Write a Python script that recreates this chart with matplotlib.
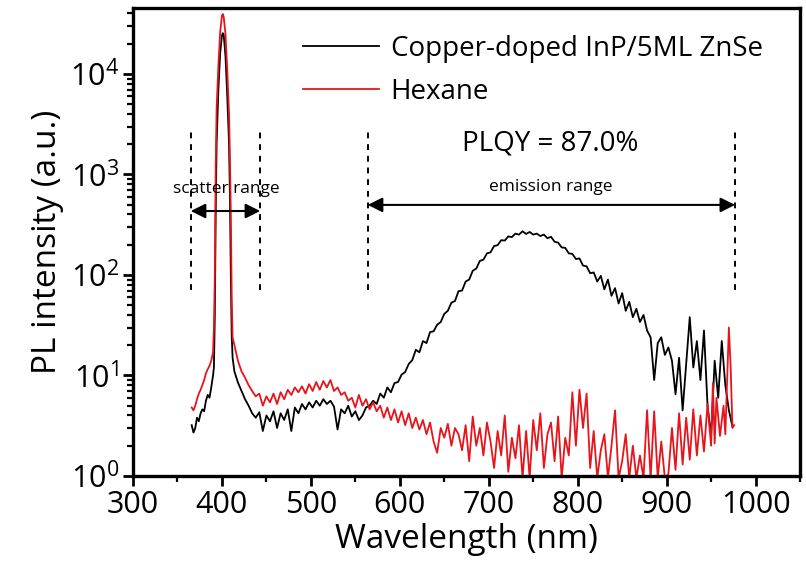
#!/usr/bin/env python3
"""PL spectrum of Cu-doped InP/ZnSe dots vs. the hexane blank, log scale."""

import matplotlib

matplotlib.use("Agg")
import matplotlib.pyplot as plt
from matplotlib.ticker import LogLocator, MultipleLocator, NullFormatter


# sample spectrum (nm, counts)
wl_sample = [366, 368, 370, 372, 374, 376, 378, 380, 382, 384, 386, 388, 390, 391, 392,
             393, 394, 396, 398, 400, 401, 402, 404, 406, 408, 409, 410, 411, 412, 414] \
    + list(range(418, 975, 4))
pl_sample = [3.2, 2.7, 3.0, 3.8, 3.5, 4.2, 4.6, 4.4, 5.6, 6.4, 6.0, 7.6, 10, 12, 40,
             400, 2000, 7000, 16000, 24000, 25500, 24500, 15000, 6000, 2000, 600, 100, 25, 15, 11,
             8.5, 7.0, 5.8, 5.0, 4.2, 3.8, 4.3, 2.8, 4.0, 3.5,
             4.4, 3.0, 4.2, 3.6, 4.6, 2.8, 4.8, 4.2, 5.2, 4.6,
             5.4, 4.8, 5.6, 5.0, 5.8, 5.2, 5.6, 4.9, 2.9, 4.6,
             4.2, 5.0, 3.9, 4.4, 3.6, 4.0, 4.8, 5.0, 5.6, 5.2,
             6.6, 6.0, 7.6, 6.8, 8.4, 8.6, 10.2, 10.8, 13.0, 14.2,
             18.0, 17.0, 22, 21, 27, 27.5, 32, 34, 41, 44,
             53, 55, 69, 70, 86, 90, 110, 116, 138, 142,
             164, 168, 194, 198, 222, 220, 242, 238, 258, 252,
             272, 256, 268, 252, 258, 244, 252, 232, 240, 214,
             210, 188, 186, 164, 162, 144, 146, 124, 122, 104,
             106, 86, 98, 72, 90, 62, 74, 52, 66, 44,
             54, 38, 46, 34, 40, 28, 24, 9, 21, 24,
             16, 19, 14, 6.5, 15, 4.5, 13, 38, 12, 22,
             9, 28, 5, 2.5, 14, 6, 22, 8, 4.5, 3.1]

# solvent blank (nm, counts)
wl_hexane = [366, 368, 370, 372, 374, 376, 378, 380, 382, 384, 386, 388, 390, 391, 392,
             393, 394, 396, 398, 400, 401, 402, 404, 406, 408, 409, 410, 411, 412, 414] \
    + list(range(418, 899, 4)) \
    + [902, 906, 910, 914, 918, 922, 926, 930, 934, 938, 942, 946, 950, 952, 954,
       956, 960, 964, 966, 970, 972, 974, 976]
pl_hexane = [4.8, 4.5, 5.0, 5.8, 6.6, 7.2, 8.0, 9.0, 10.5, 11.5, 12.5, 14, 17, 30, 100,
             1200, 4500, 12000, 26000, 38000, 39500, 37000, 25000, 11000, 4000, 1500, 400, 60, 24, 20,
             14, 11, 9.5, 8.0, 7.0, 6.2, 6.6, 5.0, 6.2, 5.4,
             6.6, 5.2, 6.8, 5.8, 7.2, 6.4, 7.6, 6.8, 7.8, 6.6,
             8.2, 7.0, 8.6, 7.2, 8.8, 7.6, 9.0, 7.0, 7.6, 6.4,
             6.8, 5.6, 6.0, 4.8, 6.4, 5.0, 5.8, 4.6, 5.4, 4.4,
             5.0, 3.8, 4.8, 3.6, 4.6, 3.4, 4.4, 3.2, 4.2, 3.0,
             3.8, 2.9, 3.6, 2.6, 3.4, 2.2, 1.7, 3.0, 2.4, 3.3,
             2.0, 3.0, 2.6, 1.8, 3.2, 1.4, 3.9, 2.0, 3.0, 1.6,
             3.4, 2.2, 1.2, 2.8, 1.6, 4.0, 1.1, 2.4, 1.5, 3.2,
             0.95, 2.8, 0.95, 3.6, 1.8, 4.2, 1.2, 2.6, 3.4, 1.4,
             3.9, 0.95, 2.4, 1.6, 6.8, 2.0, 7.2, 3.0, 6.6, 1.2,
             2.8, 0.95, 1.8, 2.6, 0.95, 2.0, 4.5, 0.95, 1.4, 2.6,
             0.95, 2.0, 0.95, 1.6, 0.95, 4.5, 0.95, 4.4, 0.95, 2.2,
             0.95,
             1.05, 3.0, 1.15, 4.2, 1.3, 3.8, 1.45, 4.6, 1.6, 4.0, 1.75, 5.2, 2.0, 8.4, 2.1,
             6.0, 2.5, 5.0, 2.6, 30, 12, 3.0, 3.2]

series_labels = ["Copper-doped InP/5ML ZnSe", "Hexane"]

# integration windows used for the QY calculation
scatter_range = (365, 443)
emission_range = (564, 977)
plqy = 87.0

plt.rcParams["font.family"] = ["Open Sans", "DejaVu Sans"]
plt.rcParams["mathtext.fontset"] = "custom"
plt.rcParams["mathtext.rm"] = "Open Sans"
plt.rcParams["mathtext.it"] = "Open Sans"

fig = plt.figure(figsize=(8.06, 5.79), dpi=100)
ax = fig.add_axes([0.165, 0.178, 0.8276, 0.8084])

ax.plot(wl_sample, pl_sample, color="black", lw=1.3, label=series_labels[0])
ax.plot(wl_hexane, pl_hexane, color="#e8141b", lw=1.3, label=series_labels[1])

ax.set_yscale("log")
ax.set_xlim(300, 1050)
ax.set_ylim(1, 4.55e4)

ax.xaxis.set_major_locator(MultipleLocator(100))
ax.xaxis.set_minor_locator(MultipleLocator(50))
ax.yaxis.set_major_locator(LogLocator(base=10, numticks=10))
ax.yaxis.set_minor_locator(LogLocator(base=10, subs=range(2, 10), numticks=20))
ax.yaxis.set_minor_formatter(NullFormatter())

for side in ax.spines.values():
    side.set_linewidth(2.4)
ax.tick_params(which="major", direction="out", length=7, width=2.0, labelsize=22, pad=3)
ax.tick_params(which="minor", direction="out", length=4, width=1.6)
ax.tick_params(top=False, right=False, which="both")

ax.set_xlabel("Wavelength (nm)", fontsize=24, labelpad=2)
ax.set_ylabel("PL intensity (a.u.)", fontsize=24, labelpad=4)

# window markers
for x in (*scatter_range, *emission_range):
    ax.plot([x, x], [71, 2800], color="black", lw=1.4, ls=(0, (3, 3)))

arrow = dict(arrowstyle="<|-|>", color="black", lw=1.5, mutation_scale=22,
             shrinkA=0, shrinkB=0)
ax.annotate("", xy=(scatter_range[0], 433), xytext=(scatter_range[1], 433), arrowprops=arrow)
ax.annotate("", xy=(emission_range[0], 498), xytext=(emission_range[1], 498), arrowprops=arrow)

ax.text(405, 720, "scatter range", fontsize=12.5, ha="center", va="center")
ax.text(770, 750, "emission range", fontsize=12.5, ha="center", va="center")
ax.text(769, 2050, f"PLQY = {plqy:.1f}%", fontsize=20, ha="center", va="center")

ax.legend(loc="upper left", bbox_to_anchor=(0.255, 0.943), frameon=False, fontsize=20,
          handlelength=2.75, handletextpad=0.4, labelspacing=0.55, borderpad=0,
          borderaxespad=0)

fig.savefig("out.png", dpi=100)
